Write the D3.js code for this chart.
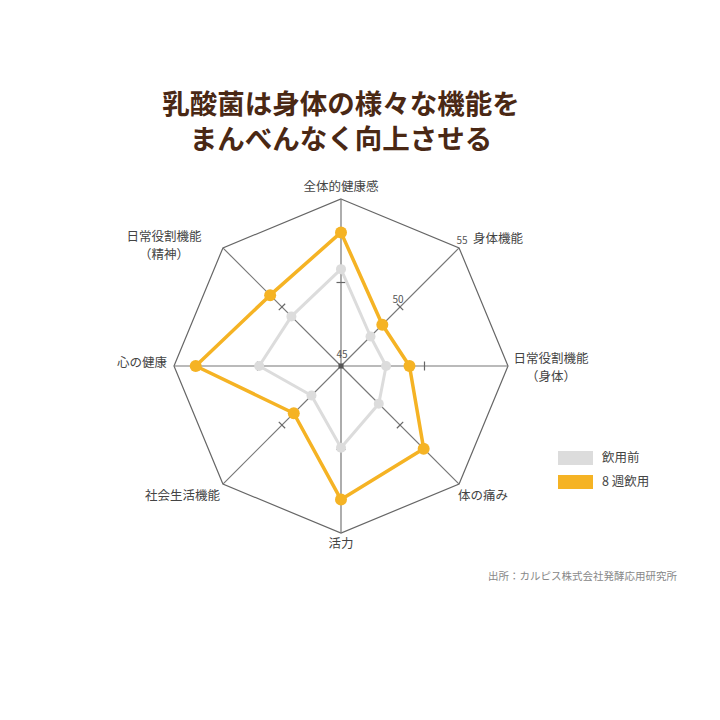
<!DOCTYPE html>
<html lang="ja">
<head>
<meta charset="utf-8">
<script src="https://cdn.jsdelivr.net/npm/d3@7"></script>
<style>
  body { margin: 0; background: #fff; }
  text { font-family: "Noto Sans CJK JP", "Noto Sans", sans-serif; }
  text.title { font-family: Lato, "Noto Sans CJK JP", sans-serif; }
</style>
</head>
<body>
<svg id="chart"></svg>
<script>
// axes, clockwise from the top
const axes = ['全体的健康感', '身体機能', '日常役割機能\n（身体）', '体の痛み', '活力', '社会生活機能', '心の健康', '日常役割機能\n（精神）'];
const before = [50.8, 47.5, 47.7, 48.2, 49.9, 47.5, 49.9, 49.2];
const after8w = [53.0, 48.5, 49.1, 52.0, 53.0, 49.0, 53.7, 51.0];
const scaleTicks = [45, 50, 55];
const seriesNames = ['飲用前', '8 週飲用'];
const titleLines = ['乳酸菌は身体の様々な機能を', 'まんべんなく向上させる'];
const source = '出所：カルピス株式会社発酵応用研究所';

const W = 720, H = 720;
const cx = 341, cy = 366, R = 167;

const svg = d3.select('#chart').attr('width', W).attr('height', H);

// title
svg.selectAll('.title')
  .data(titleLines)
  .join('text')
  .attr('class', 'title')
  .attr('x', 341)
  .attr('y', (d, i) => 114 + i * 35)
  .attr('text-anchor', 'middle')
  .attr('font-size', 27.5)
  .attr('font-weight', 'bold')
  .attr('fill', '#4a2814')
  .text(d => d);

const r = d3.scaleLinear().domain([45, 55]).range([0, R]);
const angle = i => i * Math.PI / 4;
const px = (i, v) => cx + r(v) * Math.sin(angle(i));
const py = (i, v) => cy - r(v) * Math.cos(angle(i));

const g = svg.append('g');

// outer octagon
const ring = d3.line().x((d, i) => px(i, 55)).y((d, i) => py(i, 55)).curve(d3.curveLinearClosed);
g.append('path')
  .attr('d', ring(axes))
  .attr('fill', 'none')
  .attr('stroke', '#666')
  .attr('stroke-width', 1.2);

// spokes
g.selectAll('.spoke')
  .data(axes)
  .join('line')
  .attr('class', 'spoke')
  .attr('x1', cx).attr('y1', cy)
  .attr('x2', (d, i) => px(i, 55))
  .attr('y2', (d, i) => py(i, 55))
  .attr('stroke', '#777')
  .attr('stroke-width', 1.2);

// tick marks at 50
g.selectAll('.tick')
  .data(axes)
  .join('line')
  .attr('class', 'tick')
  .each(function(d, i) {
    const a = angle(i), x = px(i, 50), y = py(i, 50);
    const ux = Math.cos(a) * 4.5, uy = Math.sin(a) * 4.5;
    d3.select(this)
      .attr('x1', x - ux).attr('y1', y - uy)
      .attr('x2', x + ux).attr('y2', y + uy);
  })
  .attr('stroke', '#666')
  .attr('stroke-width', 1.2);

// scale labels along the second axis
g.selectAll('.scale-label')
  .data(scaleTicks)
  .join('text')
  .attr('class', 'scale-label')
  .attr('x', d => px(1, d) + (d === 55 ? 3 : d === 50 ? -2 : 1))
  .attr('y', d => py(1, d) - (d === 45 ? 8 : 4))
  .attr('text-anchor', 'middle')
  .attr('font-size', 10)
  .attr('fill', '#555')
  .text(d => d);

// centre marker
g.append('rect')
  .attr('x', cx - 2.5).attr('y', cy - 2.5)
  .attr('width', 5).attr('height', 5)
  .attr('fill', '#555');

// series
const series = [
  {name: seriesNames[0], values: before, color: '#dcdcdc', width: 3, rad: 5},
  {name: seriesNames[1], values: after8w, color: '#f5b324', width: 3.5, rad: 6}
];
const line = d3.line().x(d => d.x).y(d => d.y).curve(d3.curveLinearClosed);

series.forEach(s => {
  const pts = s.values.map((v, i) => ({x: px(i, v), y: py(i, v)}));
  g.append('path')
    .attr('d', line(pts))
    .attr('fill', 'none')
    .attr('stroke', s.color)
    .attr('stroke-width', s.width)
    .attr('stroke-linejoin', 'round');
  g.selectAll(null)
    .data(pts)
    .join('circle')
    .attr('cx', d => d.x)
    .attr('cy', d => d.y)
    .attr('r', s.rad)
    .attr('fill', s.color);
});

// axis labels
const labelPos = [
  {dx: 0, dy: -12, anchor: 'middle'},
  {dx: 14, dy: -9, anchor: 'start'},
  {dx: 43, dy: -7, anchor: 'middle'},
  {dx: -1, dy: 12, anchor: 'start'},
  {dx: 0, dy: 11, anchor: 'middle'},
  {dx: -3, dy: 12, anchor: 'end'},
  {dx: -7, dy: -3, anchor: 'end'},
  {dx: -59, dy: -11, anchor: 'middle'}
];
axes.forEach((name, i) => {
  const lp = labelPos[i];
  const lines = name.split('\n');
  const x = px(i, 55) + lp.dx;
  const y = py(i, 55) + lp.dy;
  const t = g.append('text')
    .attr('x', x)
    .attr('y', y)
    .attr('text-anchor', lp.anchor)
    .attr('font-size', 12.5)
    .attr('fill', '#444');
  lines.forEach((l, j) => {
    t.append('tspan')
      .attr('x', x)
      .attr('dy', j === 0 ? '0.35em' : 18)
      .text(l);
  });
});

// legend
const legend = svg.append('g').attr('transform', 'translate(558,451)');
legend.selectAll('rect')
  .data(series)
  .join('rect')
  .attr('x', 0)
  .attr('y', (d, i) => i * 24)
  .attr('width', 35)
  .attr('height', 14)
  .attr('fill', d => d.color);
legend.selectAll('text')
  .data(series)
  .join('text')
  .attr('x', 44)
  .attr('y', (d, i) => i * 24 + 7)
  .attr('dy', '0.35em')
  .attr('font-size', 12.5)
  .attr('fill', '#444')
  .text(d => d.name);

// source note
svg.append('text')
  .attr('x', 677)
  .attr('y', 580)
  .attr('text-anchor', 'end')
  .attr('font-size', 10.5)
  .attr('fill', '#888')
  .text(source);
</script>
</body>
</html>
